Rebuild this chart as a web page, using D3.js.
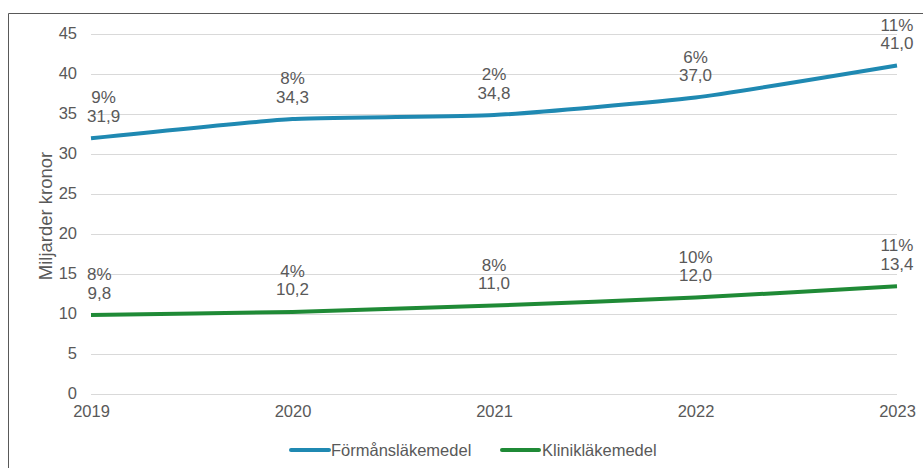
<!DOCTYPE html>
<html><head><meta charset="utf-8">
<script src="https://cdn.jsdelivr.net/npm/d3@7"></script>
<style>
html,body{margin:0;padding:0;background:#fff;}
svg{display:block;font-family:"Liberation Sans",Arial,sans-serif;}
</style></head>
<body><svg id="c" width="923" height="468"></svg>
<script>
const years = ["2019","2020","2021","2022","2023"];
const formanValues = [31.9, 34.3, 34.8, 37.0, 41.0];
const formanGrowth = ["9%","8%","2%","6%","11%"];
const klinikValues = [9.8, 10.2, 11.0, 12.0, 13.4];
const klinikGrowth = ["8%","4%","8%","10%","11%"];
const yTicks = [0,5,10,15,20,25,30,35,40,45];
const seriesNames = ["Förmånsläkemedel","Klinikläkemedel"];
const seriesColors = ["#1f89b2","#1f8a36"];

const svg = d3.select("#c");
const x = d3.scalePoint().domain(years).range([91, 897]);
const y = d3.scaleLinear().domain([0,45]).range([393.5, 33.5]);
const textColor = "#595959";
const FONT = "Liberation Sans, Arial, sans-serif";

// chart border (left and top visible)
svg.append("path").attr("d", "M8.5,468 V13.5 H923").attr("fill","none").attr("stroke","#595959").attr("stroke-width",1);

// gridlines
svg.append("g").selectAll("line").data(yTicks).join("line")
  .attr("x1", 91).attr("x2", 897)
  .attr("y1", d => Math.round(y(d))+0.5).attr("y2", d => Math.round(y(d))+0.5)
  .attr("stroke", "#d9d9d9").attr("stroke-width", 1);

// y axis labels
const yAxis = d3.axisLeft(y).tickValues(yTicks).tickSize(0).tickPadding(0);
const gy = svg.append("g").attr("transform","translate(77,0)").call(yAxis);
gy.select(".domain").remove();
gy.selectAll("text").attr("fill", textColor).style("font-size","16.5px").style("font-family",FONT);

// x axis labels
const xAxis = d3.axisBottom(x).tickSize(0).tickPadding(0);
const gx = svg.append("g").attr("transform","translate(0,405)").call(xAxis);
gx.select(".domain").remove();
gx.selectAll("text").attr("fill", textColor).style("font-size","16.5px").style("font-family",FONT);

// y title
svg.append("text").attr("transform","translate(52,216) rotate(-90)")
  .attr("text-anchor","middle").attr("fill",textColor).style("font-size","18.5px")
  .text("Miljarder kronor");

// lines
const line = d3.line().x((d,i)=>x(years[i])).y(d=>y(d)).curve(d3.curveCardinal.tension(0.5));
[formanValues, klinikValues].forEach((vals, si) => {
  svg.append("path").datum(vals).attr("d", line).attr("fill","none")
    .attr("stroke", seriesColors[si]).attr("stroke-width", 4).attr("stroke-linecap","butt");
});

// data labels
const fmt = v => v.toFixed(1).replace(".", ",");
function labels(vals, growth) {
  vals.forEach((v, i) => {
    const px = x(years[i]), py = y(v);
    const g = svg.append("g");
    const t1 = g.append("text").attr("text-anchor","middle").attr("fill",textColor)
      .style("font-size","17px").attr("y", py - 35).text(growth[i]);
    const t2 = g.append("text").attr("text-anchor","middle").attr("fill",textColor)
      .style("font-size","17px").attr("y", py - 16.5).text(fmt(v));
    const w = Math.max(t1.node().getComputedTextLength(), t2.node().getComputedTextLength());
    let cx = px;
    if (cx - w/2 < 87) cx = 87 + w/2;
    t1.attr("x", cx); t2.attr("x", cx);
  });
}
labels(formanValues, formanGrowth);
labels(klinikValues, klinikGrowth);

// legend
const legend = svg.append("g");
const legendItems = [{x0:291, x1:329, tx:331},{x0:502, x1:539, tx:542}];
seriesNames.forEach((n, i) => {
  const it = legendItems[i];
  legend.append("line").attr("x1", it.x0).attr("x2", it.x1).attr("y1", 450).attr("y2", 450)
    .attr("stroke", seriesColors[i]).attr("stroke-width", 4).attr("stroke-linecap","round");
  legend.append("text").attr("x", it.tx).attr("y", 456).attr("fill", textColor)
    .style("font-size","16.5px").text(n);
});
</script></body></html>
